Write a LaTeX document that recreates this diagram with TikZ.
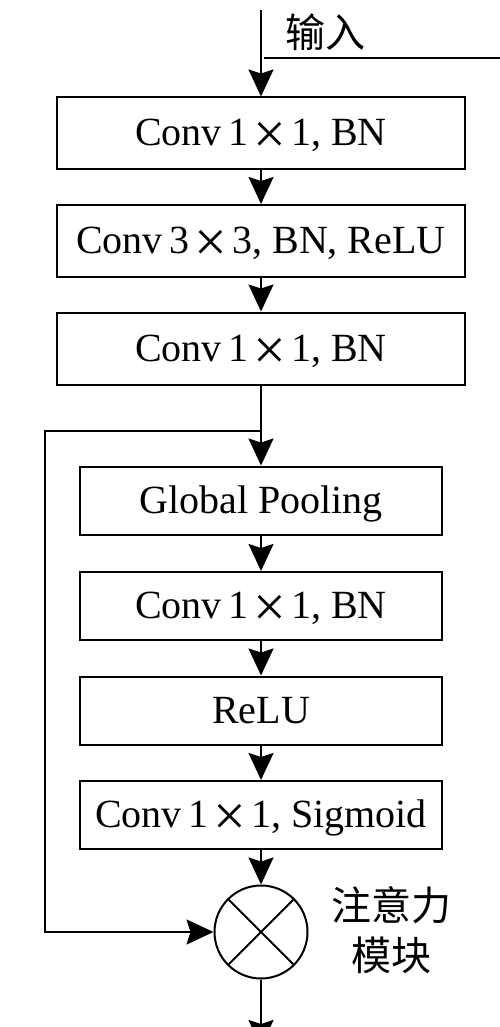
\documentclass[tikz,border=0pt]{standalone}
\usepackage{fontspec}
\setmainfont{Liberation Serif}
\newfontfamily\cjk{Noto Sans CJK SC}
\usetikzlibrary{arrows.meta}
\newcommand{\bigx}{\hspace{5pt}\raisebox{-8pt}{\fontsize{58}{58}\selectfont ×}\hspace{5pt}}
\begin{document}
\begin{tikzpicture}[x=1pt,y=-1pt,line width=2pt,
  box/.style={draw, rectangle, inner sep=0pt, text height=27pt, text depth=2pt, font=\fontsize{40}{44}\selectfont},
  outerbox/.style={box, minimum width=408pt, minimum height=72pt},
  innerbox/.style={box, minimum width=362pt, minimum height=68pt},
  arr/.style={-{Stealth[length=27pt,width=25pt,inset=4pt]}},
  cjklabel/.style={font=\cjk\fontsize{40}{50}\selectfont, inner sep=0pt, align=center}]
\useasboundingbox (0,0) rectangle (500,1027);
\node[outerbox] (b1) at (261,133.5) {Conv\,1\bigx1, BN};
\node[outerbox] (b2) at (261,241) {Conv\,3\bigx3, BN, ReLU};
\node[outerbox] (b3) at (261,348.5) {Conv\,1\bigx1, BN};
\node[innerbox] (gp) at (261,500.5) {Global Pooling};
\node[innerbox] (c2) at (261,606) {Conv\,1\bigx1, BN};
\node[innerbox] (re) at (261,710.5) {ReLU};
\node[innerbox] (sg) at (261,815) {Conv\,1\bigx1, Sigmoid};
\node[draw, circle, minimum size=93pt, inner sep=0pt] (m) at (261,932) {};
\draw (m.north west) -- (m.south east);
\draw (m.north east) -- (m.south west);
\node[cjklabel] (inlab) at (325,32) {输入};
\node[cjklabel] (att) at (391,930) {注意力\\模块};
\coordinate (in) at (261,10);
\coordinate (h1) at (264,58);
\coordinate (h2) at (500,58);
\coordinate (j) at (261,431);
\coordinate (l1) at (45,431);
\coordinate (l2) at (45,932);
\coordinate (out) at (261,1047);
\draw[arr] (in) -- (b1);
\draw (h1) -- (h2);
\draw[arr] (b1) -- (b2);
\draw[arr] (b2) -- (b3);
\draw[arr] (b3) -- (gp);
\draw[arr] (j) -- (l1) -- (l2) -- (m.west);
\draw[arr] (gp) -- (c2);
\draw[arr] (c2) -- (re);
\draw[arr] (re) -- (sg);
\draw[arr] (sg) -- (m);
\draw[arr] (m) -- (out);
\end{tikzpicture}
\end{document}
